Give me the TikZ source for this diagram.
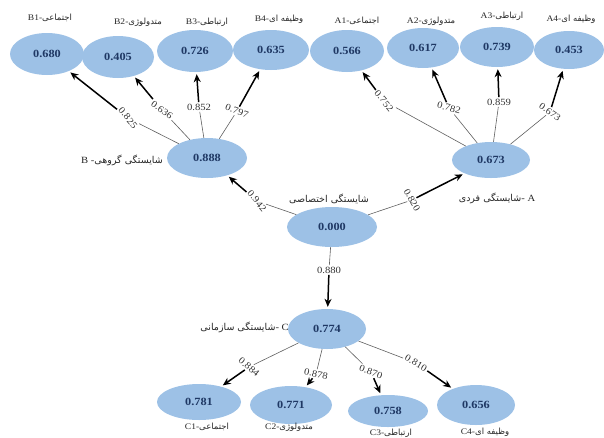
\documentclass[tikz,border=0pt]{standalone}
\usepackage{fontspec}
\setmainfont[FakeStretch=1.12]{Liberation Serif}
\newfontfamily\arabicfont[Script=Arabic,Scale=1.0]{DejaVu Sans}
\TeXXeTstate=1
\usetikzlibrary{shapes.geometric,arrows.meta}
\definecolor{ellfill}{RGB}{157,193,230}
\definecolor{valcol}{RGB}{31,56,100}
\definecolor{thincol}{RGB}{95,95,95}
\newcommand{\fa}[1]{{\arabicfont\beginR #1\endR}}
\begin{document}
\begin{tikzpicture}[x=1pt,y=-1pt,
  ell/.style={ellipse, fill=ellfill, draw=none, inner sep=0pt, font=\fontsize{11}{13}\selectfont\bfseries, text=valcol},
  nm/.style={font=\fontsize{8.5}{10}\selectfont, text=black!85, inner sep=1pt},
  grp/.style={font=\fontsize{9.5}{11}\selectfont, text=black!85, inner sep=1pt},
  elbl/.style={font=\fontsize{9.5}{11}\selectfont, text=black!80, inner sep=1.5pt},
  thinline/.style={draw=thincol, line width=0.6pt},
  thickarrow/.style={draw=black, line width=1.5pt, -{Stealth[length=8pt,width=7pt]}, shorten >=2pt}
]
\useasboundingbox (0,0) rectangle (604,437);

% ellipses
\node[ell, minimum width=74pt, minimum height=42pt] (B1) at (47,54) {0.680};
\node[ell, minimum width=72pt, minimum height=42pt] (B2) at (118,57) {0.405};
\node[ell, minimum width=76pt, minimum height=42pt] (B3) at (195,51) {0.726};
\node[ell, minimum width=76pt, minimum height=40pt] (B4) at (271,50) {0.635};
\node[ell, minimum width=74pt, minimum height=42pt] (A1) at (347,51) {0.566};
\node[ell, minimum width=72pt, minimum height=40pt] (A2) at (423,48) {0.617};
\node[ell, minimum width=74pt, minimum height=40pt] (A3) at (497,47) {0.739};
\node[ell, minimum width=70pt, minimum height=38pt] (A4) at (569,50) {0.453};
\node[ell, minimum width=80pt, minimum height=40pt] (B) at (207,158) {0.888};
\node[ell, minimum width=78pt, minimum height=36pt] (A) at (491,160) {0.673};
\node[ell, minimum width=90pt, minimum height=40pt] (X) at (332,227) {0.000};
\node[ell, minimum width=78pt, minimum height=40pt] (C) at (327,329) {0.774};
\node[ell, minimum width=84pt, minimum height=36pt] (C1) at (199,402) {0.781};
\node[ell, minimum width=82pt, minimum height=38pt] (C2) at (291,405) {0.771};
\node[ell, minimum width=80pt, minimum height=32pt] (C3) at (388,411) {0.758};
\node[ell, minimum width=78pt, minimum height=40pt] (C4) at (476,405) {0.656};

% item labels
\node[nm] (lB1) at (50,18) {B1-\fa{اجتماعی}};
\node[nm] (lB2) at (138,22) {B2-\fa{متدولوژی}};
\node[nm] (lB3) at (207,22) {B3-\fa{ارتباطی}};
\node[nm] (lB4) at (279,19) {B4-\fa{وظیفه ای}};
\node[nm] (lA1) at (357,21) {A1-\fa{اجتماعی}};
\node[nm] (lA2) at (431,21) {A2-\fa{متدولوژی}};
\node[nm] (lA3) at (502,16) {A3-\fa{ارتباطی}};
\node[nm] (lA4) at (571,19) {A4-\fa{وظیفه ای}};
\node[nm] (lC1) at (207,427) {C1-\fa{اجتماعی}};
\node[nm] (lC2) at (289,427) {C2-\fa{متدولوژی}};
\node[nm] (lC3) at (391,433) {C3-\fa{ارتباطی}};
\node[nm] (lC4) at (485,432) {C4-\fa{وظیفه ای}};

% group labels
\node[grp, anchor=east] (lB) at (164,160) {B -\fa{شایستگی گروهی}};
\node[grp] (lA) at (497,198) {\fa{شایستگی فردی}- A};
\node[grp] (lX) at (329,199) {\fa{شایستگی اختصاصی}};
\node[grp, anchor=east] (lC) at (290,327) {\fa{شایستگی سازمانی}- C};

% edge labels
\node[elbl, rotate=-50] (e1) at (128,118) {0.825};
\node[elbl, rotate=-35] (e2) at (162,110) {0.636};
\node[elbl] (e3) at (199,107) {0.852};
\node[elbl, rotate=-20] (e4) at (237,111) {0.797};
\node[elbl, rotate=-50] (f1) at (384,101) {0.752};
\node[elbl, rotate=-15] (f2) at (449,108) {0.782};
\node[elbl] (f3) at (499,102) {0.859};
\node[elbl, rotate=-35] (f4) at (550,112) {0.673};
\node[elbl, rotate=-50] (gB) at (257,201) {0.942};
\node[elbl, rotate=-60] (gA) at (412,200) {0.820};
\node[elbl] (gC) at (329,270) {0.880};
\node[elbl, rotate=-40] (h1) at (249,367) {0.884};
\node[elbl, rotate=-12] (h2) at (316,374) {0.878};
\node[elbl, rotate=-20] (h3) at (371,372) {0.870};
\node[elbl, rotate=-30] (h4) at (416,363) {0.810};

% connectors
\foreach \p/\e/\c in {B/e1/B1, B/e2/B2, B/e3/B3, B/e4/B4,
                      A/f1/A1, A/f2/A2, A/f3/A3, A/f4/A4,
                      X/gB/B, X/gA/A, X/gC/C,
                      C/h1/C1, C/h2/C2, C/h3/C3, C/h4/C4}{
  \draw[thinline] (\p) -- (\e);
  \draw[thickarrow] (\e) -- (\c);
}
\end{tikzpicture}
\end{document}
